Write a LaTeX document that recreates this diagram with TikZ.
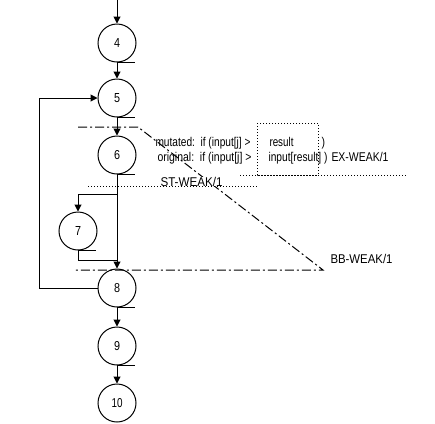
\documentclass[tikz,border=0pt]{standalone}
\usepackage{fontspec}
\usepackage{graphicx}
\setmainfont{Liberation Sans}
\newcommand\fitt[2]{\resizebox{#1}{9.2bp}{\fontsize{12bp}{14bp}\selectfont #2}}
\newcommand\digtxt[2]{\resizebox{#1}{9bp}{\fontsize{12bp}{14bp}\selectfont #2}}
\usetikzlibrary{arrows.meta}
\begin{document}
\begin{tikzpicture}[x=1bp,y=-1bp,line width=1bp,
  blk/.style={circle,draw,minimum size=38bp,inner sep=0pt},
  flow/.style={draw,-{Triangle[length=7bp,width=7bp]}},
  dashdot/.style={dash pattern=on 9bp off 3bp on 2bp off 3bp},
  dots/.style={dash pattern=on 1bp off 2bp},
  lab/.style={anchor=base west,inner sep=0pt}
]
\useasboundingbox (0,0) rectangle (435,423);
% blocks
\node[blk] (n4) at (117,43) {\digtxt{6bp}{4}};
\node[blk] (n5) at (117,98) {\digtxt{6bp}{5}};
\node[blk] (n6) at (117,155) {\digtxt{6bp}{6}};
\node[blk] (n7) at (78,231) {\digtxt{6bp}{7}};
\node[blk] (n8) at (117,288) {\digtxt{6bp}{8}};
\node[blk] (n9) at (117,346) {\digtxt{6bp}{9}};
\node[blk] (n10) at (117,403) {\digtxt{11bp}{10}};
% tangent marks
\foreach \n in {n4,n5,n6,n7,n8,n9} \draw (\n.south) -- ++(18,0);
% flow edges
\coordinate (top) at (117,0);
\draw[flow] (top) -- (n4);
\draw[flow] (n4) -- (n5);
\draw[flow] (n5) -- (n6);
\draw[flow] (n6) -- (n8);
\draw[flow] (n8) -- (n9);
\draw[flow] (n9) -- (n10);
\coordinate (br) at (117,194);
\draw[flow] (br) -| (n7);
\coordinate (jn) at (117,260);
\draw (n7.south) |- (jn);
\draw[flow] (n8.west) -- ++(-58,0) |- (n5.west);
% BB-WEAK region
\coordinate (d1) at (78,127);
\coordinate (d2) at (138,127);
\coordinate (d3) at (323,270);
\coordinate (d4) at (73,270);
\draw[dashdot] (d1) -- (d2) -- (d3) -- (d4);
% ST-WEAK line
\coordinate (s1) at (88,186);
\coordinate (s2) at (258,186);
\draw[dots] (s1) -- (s2);
\node[lab,fill=white] (st) at (160,186) {\fitt{62bp}{ST-WEAK/1}};
% EX-WEAK box
\coordinate (b1) at (257,123);
\coordinate (b2) at (318,175);
\draw[dots] (b1) rectangle (b2);
\coordinate (e1) at (240,175);
\coordinate (e2) at (407,175);
\draw[dots] (e1) -- (e2);
% texts
\node[lab] (mut) at (155,146) {\fitt{95bp}{mutated:\ \ if (input[j] >}};
\node[lab] (res) at (269,146) {\fitt{24bp}{result}};
\node[lab] (par) at (321,146) {\fitt{3.5bp}{)}};
\node[lab] (org) at (157,161) {\fitt{94bp}{original:\ \ if (input[j] >}};
\node[lab] (inp) at (268,161) {\fitt{59bp}{input[result] )}};
\node[lab] (ex) at (331,161) {\fitt{57bp}{EX-WEAK/1}};
\node[lab] (bb) at (330,263) {\fitt{62bp}{BB-WEAK/1}};
\end{tikzpicture}
\end{document}
